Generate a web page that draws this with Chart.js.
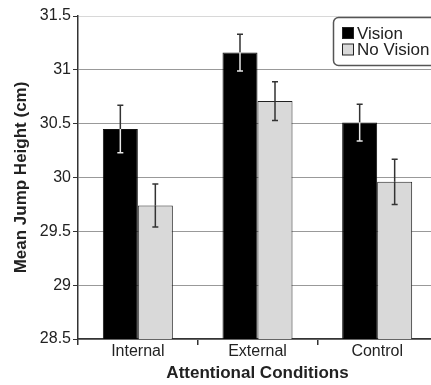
<!DOCTYPE html>
<html>
<head>
<meta charset="utf-8">
<script src="https://cdn.jsdelivr.net/npm/chart.js@4/dist/chart.umd.min.js"></script>
<style>
  html, body { margin: 0; padding: 0; background: #fff; overflow: hidden; }
  #wrap { width: 440px; height: 385px; }
</style>
</head>
<body>
<div id="wrap"><canvas id="jumpChart" width="440" height="385"></canvas></div>
<script>
const conditions = ["Internal", "External", "Control"];
const visionMeans = [30.45, 31.16, 30.51];
const visionErr = [0.22, 0.17, 0.17];
const noVisionMeans = [29.74, 30.71, 29.96];
const noVisionErr = [0.20, 0.18, 0.21];
const yTicks = [28.5, 29, 29.5, 30, 30.5, 31, 31.5];

const FONT = "'Liberation Sans', Arial, sans-serif";

// error bars: dark above the bar, light where they sit on the black fill
const errorBars = {
  id: "errorBars",
  afterDatasetsDraw(chart) {
    const ctx = chart.ctx;
    const y = chart.scales.y;
    chart.data.datasets.forEach((ds, i) => {
      const meta = chart.getDatasetMeta(i);
      meta.data.forEach((bar, j) => {
        const v = ds.data[j];
        const e = ds.errors[j];
        const yHi = y.getPixelForValue(v + e);
        const yLo = y.getPixelForValue(v - e);
        const x = bar.x;
        ctx.save();
        ctx.lineWidth = 1.5;
        ctx.strokeStyle = "#333";
        ctx.beginPath();
        ctx.moveTo(x, yHi); ctx.lineTo(x, bar.y);
        ctx.moveTo(x - 3, yHi); ctx.lineTo(x + 3, yHi);
        ctx.stroke();
        ctx.strokeStyle = ds.inner;
        ctx.beginPath();
        ctx.moveTo(x, bar.y); ctx.lineTo(x, yLo);
        ctx.moveTo(x - 3, yLo); ctx.lineTo(x + 3, yLo);
        ctx.stroke();
        ctx.restore();
      });
    });
  }
};

// boxed legend in the upper right corner
const boxLegend = {
  id: "boxLegend",
  afterDraw(chart) {
    const ctx = chart.ctx;
    ctx.save();
    ctx.beginPath();
    ctx.roundRect(333.5, 17.5, 110, 48, 5);
    ctx.fillStyle = "#fff";
    ctx.fill();
    ctx.lineWidth = 1.5;
    ctx.strokeStyle = "#555";
    ctx.stroke();
    ctx.font = "17px " + FONT;
    ctx.textBaseline = "middle";
    chart.data.datasets.forEach((ds, i) => {
      const cy = 33 + i * 16.5;
      ctx.fillStyle = ds.backgroundColor;
      ctx.fillRect(342.5, cy - 5.5, 11, 11);
      ctx.lineWidth = 1;
      ctx.strokeStyle = "#222";
      ctx.strokeRect(342.5, cy - 5.5, 11, 11);
      ctx.fillStyle = "#222";
      ctx.fillText(ds.label, 357, cy + 1);
    });
    ctx.restore();
  }
};

new Chart(document.getElementById("jumpChart"), {
  type: "bar",
  data: {
    labels: conditions,
    datasets: [
      {
        label: "Vision",
        data: visionMeans,
        errors: visionErr,
        inner: "#e8e8e8",
        backgroundColor: "#000",
        borderColor: "#111",
        borderWidth: 1,
        categoryPercentage: 0.585,
        barPercentage: 1
      },
      {
        label: "No Vision",
        data: noVisionMeans,
        errors: noVisionErr,
        inner: "#333",
        backgroundColor: "#d9d9d9",
        borderColor: "#222",
        borderWidth: 1,
        categoryPercentage: 0.585,
        barPercentage: 1
      }
    ]
  },
  options: {
    responsive: false,
    animation: false,
    layout: { padding: { top: 16, right: 3, left: 0, bottom: 0 } },
    plugins: {
      legend: { display: false },
      tooltip: { enabled: false }
    },
    scales: {
      x: {
        afterFit(scale) { scale.height = 46; },
        grid: {
          display: true,
          drawOnChartArea: false,
          drawTicks: true,
          tickLength: 6,
          tickColor: "#333",
          lineWidth: 1.5
        },
        border: { color: "#333", width: 1.5 },
        ticks: {
          color: "#222",
          padding: -1,
          font: { family: FONT, size: 16, lineHeight: 1 }
        },
        title: {
          display: true,
          text: "Attentional Conditions",
          color: "#222",
          padding: { top: 0, bottom: 1 },
          font: { family: FONT, size: 17, weight: "bold" }
        }
      },
      y: {
        min: 28.5,
        max: 31.5,
        afterFit(scale) { scale.width = 78; },
        afterBuildTicks(scale) { scale.ticks = yTicks.map(v => ({ value: v })); },
        grid: {
          color: ctx => ctx.tick && ctx.tick.value === 31.5 ? "#d8d8d8" : "#999",
          lineWidth: 1,
          tickLength: 5,
          tickColor: "#333"
        },
        border: { color: "#333", width: 1.5 },
        ticks: {
          color: "#222",
          padding: 2,
          callback: v => String(v),
          font: { family: FONT, size: 16 }
        },
        title: {
          display: true,
          text: "Mean Jump Height (cm)",
          color: "#222",
          padding: { top: 11, bottom: 0 },
          font: { family: FONT, size: 17, weight: "bold" }
        }
      }
    }
  },
  plugins: [errorBars, boxLegend]
});
</script>
</body>
</html>
